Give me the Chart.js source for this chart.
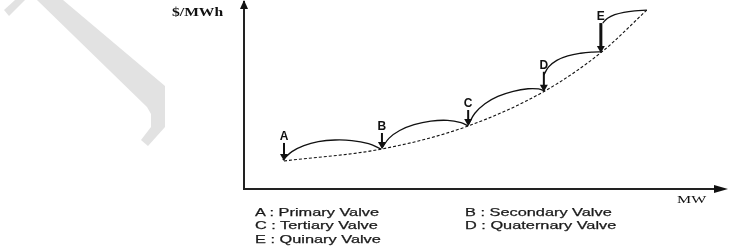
<!DOCTYPE html>
<html>
<head>
<meta charset="utf-8">
<script src="https://cdn.jsdelivr.net/npm/chart.js@4/dist/chart.umd.min.js"></script>
<style>
  body { margin: 0; background: #fff; }
  #wrap { position: relative; width: 729px; height: 252px; overflow: hidden; }
  #mark { position: absolute; left: 0; top: 0; }
  #chart { position: absolute; left: 0; top: 0; }
  .lbl { position: absolute; white-space: nowrap; transform-origin: left center; color: #1a1a1a; }
  .serif { font-family: "Liberation Serif", serif; font-weight: bold; color: #111; }
  .sans { font-family: "Liberation Sans", Arial, sans-serif; font-size: 11.5px; transform: scaleX(1.42); -webkit-text-stroke: 0.25px #1a1a1a; }
</style>
</head>
<body>
<div id="wrap">
  <svg id="mark" width="729" height="252">
    <polygon points="37,0 63,0 165,86 165,127 148,146 141,140 151,127 151,114 147,107" fill="#e2e2e2"/>
    <polygon points="4,10 9,16 25,0 15,0" fill="#e2e2e2"/>
  </svg>
  <canvas id="chart" width="729" height="252"></canvas>
  <div class="lbl serif" style="left:172px; top:5px; font-size:12px; transform:scaleX(1.3);">$/MWh</div>
  <div class="lbl serif" style="left:677px; top:193px; font-size:11px; font-weight:normal; transform:scaleX(1.45);">MW</div>
  <div id="legend"></div>
</div>
<script>
// base (dashed) cost curve, MW vs $/MWh
var baseX = [8.35, 28.8, 46.8, 62.8, 74.7, 84.1];
var baseY = [15.0, 21.4, 33.7, 52.4, 73.3, 95.7];

// valve point arcs (solid)
var arcAB_x = [8.1, 10.0, 12.5, 15.5, 19.0, 22.5, 26.0, 28.6];
var arcAB_y = [15.5, 20.0, 23.2, 25.3, 26.2, 25.9, 24.2, 21.4];
var arcBC_x = [28.8, 30.3, 32.5, 35.5, 39.0, 42.5, 45.3, 46.8];
var arcBC_y = [21.9, 27.2, 31.3, 34.4, 36.3, 36.7, 35.5, 33.7];
var arcCD_x = [46.8, 48.2, 50.3, 53.0, 56.2, 59.3, 61.5, 62.8];
var arcCD_y = [34.2, 40.5, 45.6, 49.5, 52.2, 53.6, 53.5, 52.4];
var arcDE_x = [62.6, 63.6, 65.3, 67.6, 70.3, 72.8, 74.7];
var arcDE_y = [61.0, 65.3, 68.8, 71.2, 72.6, 73.2, 73.3];
var arcEF_x = [74.9, 75.9, 77.4, 79.3, 81.6, 84.1];
var arcEF_y = [88.8, 91.3, 93.2, 94.5, 95.3, 95.7];

// valve markers
var valveLabels = ['A', 'B', 'C', 'D', 'E'];
var valveX = [8.35, 28.8, 46.8, 62.6, 74.5];
var valveY = [15.0, 21.4, 33.7, 52.0, 72.7];
var valveNames = ['Primary Valve', 'Secondary Valve', 'Tertiary Valve', 'Quaternary Valve', 'Quinary Valve'];

function pts(xs, ys) {
    var out = [];
    for (var i = 0; i < xs.length; i++) out.push({x: xs[i], y: ys[i]});
    return out;
}

// legend text, two columns
var legendPos = [[255, 206], [465, 206], [255, 219], [465, 219], [255, 233]];
var legend = document.getElementById('legend');
for (var i = 0; i < valveLabels.length; i++) {
    var d = document.createElement('div');
    d.className = 'lbl sans';
    d.style.left = legendPos[i][0] + 'px';
    d.style.top = legendPos[i][1] + 'px';
    d.textContent = valveLabels[i] + ' : ' + valveNames[i];
    legend.appendChild(d);
}

var arrowLen = [18, 16, 16, 20, 30];

var decor = {
    id: 'decor',
    afterDraw: function(chart) {
        var ctx = chart.ctx, a = chart.chartArea;
        var xs = chart.scales.x, ys = chart.scales.y;
        ctx.save();
        ctx.fillStyle = '#111';
        // axis arrow heads
        ctx.beginPath();
        ctx.moveTo(a.left, 0);
        ctx.lineTo(a.left - 4, 9);
        ctx.lineTo(a.left + 4, 9);
        ctx.closePath();
        ctx.fill();
        ctx.beginPath();
        ctx.moveTo(728, a.bottom);
        ctx.lineTo(714, a.bottom - 4);
        ctx.lineTo(714, a.bottom + 4);
        ctx.closePath();
        ctx.fill();
        // valve arrows and letters
        ctx.strokeStyle = '#111';
        ctx.font = 'bold 12px "Liberation Sans", Arial, sans-serif';
        ctx.textAlign = 'center';
        ctx.textBaseline = 'middle';
        for (var i = 0; i < valveLabels.length; i++) {
            var px = xs.getPixelForValue(valveX[i]);
            var py = ys.getPixelForValue(valveY[i]);
            var top = py - arrowLen[i];
            ctx.lineWidth = i == 4 ? 3 : 2;
            ctx.beginPath();
            ctx.moveTo(px, top);
            ctx.lineTo(px, py - 5);
            ctx.stroke();
            ctx.beginPath();
            ctx.moveTo(px, py);
            ctx.lineTo(px - 4, py - 7);
            ctx.lineTo(px + 4, py - 7);
            ctx.closePath();
            ctx.fill();
            ctx.fillText(valveLabels[i], px, top - 6);
        }
        ctx.restore();
    }
};

var arcStyle = {borderColor: '#111', borderWidth: 1.3, pointRadius: 0, tension: 0.4, fill: false};

new Chart(document.getElementById('chart'), {
    type: 'line',
    data: {
        datasets: [
            {data: pts(baseX, baseY), borderColor: '#111', borderWidth: 1.1, borderDash: [3, 2],
             pointRadius: 0, cubicInterpolationMode: 'monotone', fill: false},
            Object.assign({data: pts(arcAB_x, arcAB_y)}, arcStyle),
            Object.assign({data: pts(arcBC_x, arcBC_y)}, arcStyle),
            Object.assign({data: pts(arcCD_x, arcCD_y)}, arcStyle),
            Object.assign({data: pts(arcDE_x, arcDE_y)}, arcStyle),
            Object.assign({data: pts(arcEF_x, arcEF_y)}, arcStyle)
        ]
    },
    options: {
        responsive: false,
        animation: false,
        devicePixelRatio: 1,
        layout: { padding: {left: 244, right: 6, top: 2, bottom: 63} },
        plugins: { legend: {display: false}, tooltip: {enabled: false} },
        scales: {
            x: { type: 'linear', min: 0, max: 100,
                 grid: {display: false, drawTicks: false}, ticks: {display: false},
                 border: {display: true, color: '#222', width: 2} },
            y: { type: 'linear', min: 0, max: 100,
                 grid: {display: false, drawTicks: false}, ticks: {display: false},
                 border: {display: true, color: '#222', width: 2} }
        }
    },
    plugins: [decor]
});
</script>
</body>
</html>
